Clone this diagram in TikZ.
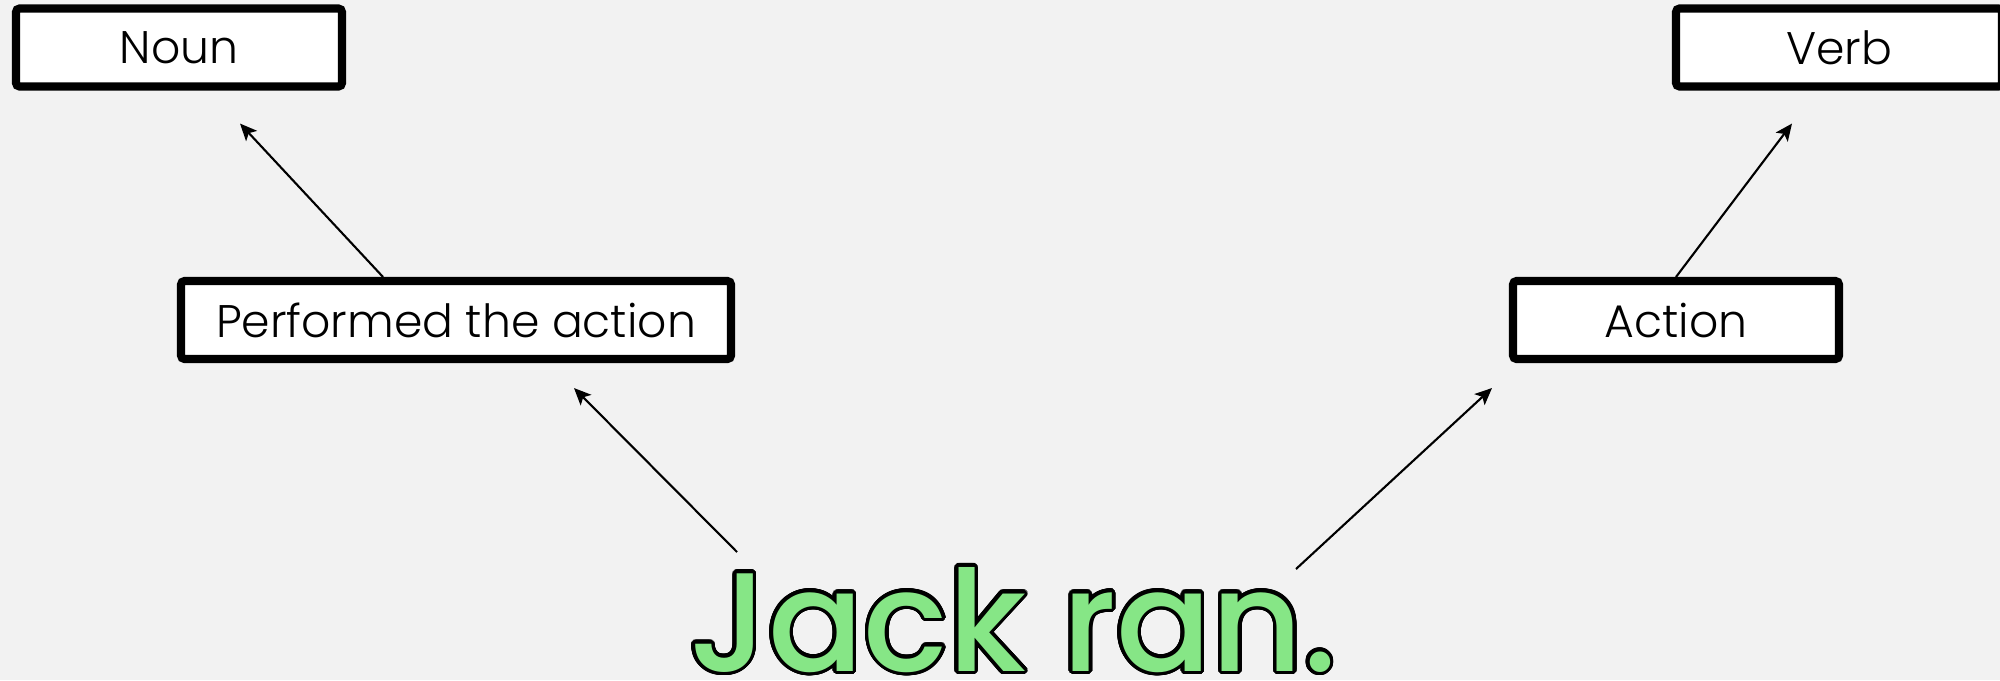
\documentclass[tikz,border=0pt]{standalone}
\usepackage{fontspec}
\setmainfont{Poppins}[UprightFont=* Light, BoldFont=* Medium]
\usepackage{contour}
\usetikzlibrary{positioning, arrows.meta}
\definecolor{bgcol}{HTML}{F2F2F2}
\definecolor{wordgreen}{HTML}{86E686}
\contourlength{1.0pt}
\contournumber{32}

\begin{document}
\begin{tikzpicture}
    % Define the style for the boxes
    \tikzset{
        tag/.style={rectangle, draw, line width=2.3pt, rounded corners=1pt, fill=white, minimum height=0.78cm, text centered, font=\fontsize{13}{16}\selectfont},
        link/.style={line width=0.6pt, -{Stealth[length=1.7mm, width=1.5mm, inset=0.4mm]}}
    }

    % Background and page size
    \fill[bgcol] (0,0) rectangle (20,6.8);
    \useasboundingbox (0,0) rectangle (20,6.8);

    % Draw the sentence
    \node[anchor=base, inner sep=0pt, font=\fontsize{40}{48}\selectfont\bfseries] (sent) at (10.13,0.09) {\contour{black}{\textcolor{wordgreen}{Jack ran.}}};

    % Draw the tag boxes
    \node[tag, minimum width=5.50cm] (perf) at (4.56,3.60) {Performed the action};
    \node[tag, minimum width=3.26cm] (act) at (16.76,3.60) {Action};
    \node[tag, minimum width=3.26cm] (noun) at (1.79,6.325) {Noun};
    \node[tag, minimum width=3.26cm] (verb) at (18.39,6.325) {Verb};

    % Draw the arrows
    \draw[link] ([shift={(-2.76,1.19)}]sent.base) -- ([shift={(1.18,-0.25)}]perf.south);
    \draw[link] ([shift={(2.83,1.02)}]sent.base) -- ([shift={(-1.84,-0.25)}]act.south);
    \draw[link] ([xshift=-0.73cm]perf.north) -- ([shift={(0.61,-0.33)}]noun.south);
    \draw[link] (act.north) -- ([shift={(-0.47,-0.33)}]verb.south);
\end{tikzpicture}
\end{document}
